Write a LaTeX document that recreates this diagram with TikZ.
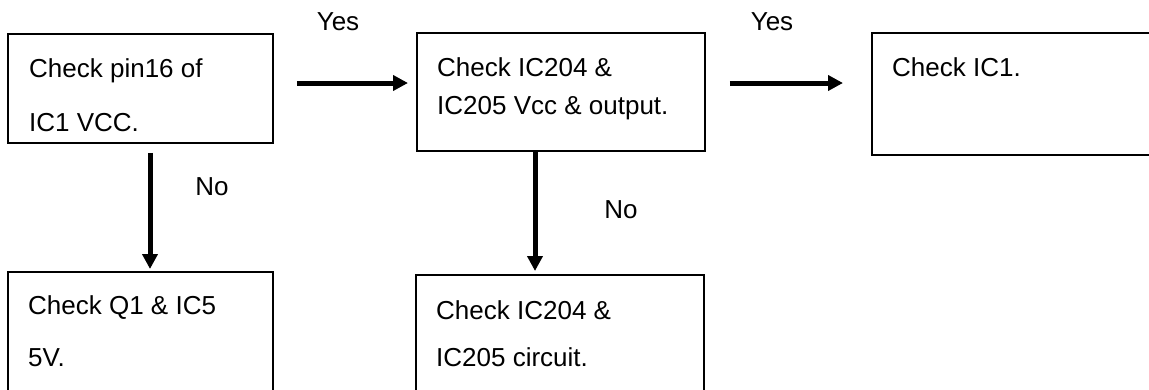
\documentclass[tikz,border=0pt]{standalone}
\usepackage{fontspec}
\setmainfont{Liberation Sans}
\usetikzlibrary{arrows.meta}
\begin{document}
\begin{tikzpicture}[x=1pt,y=-1pt,
  box/.style={draw, line width=1.8pt, anchor=north west, inner sep=0pt},
  txt/.style={anchor=base west, inner sep=0pt, font=\fontsize{26}{30}\selectfont},
  lbl/.style={inner sep=0pt, font=\fontsize{26}{30}\selectfont},
  arr/.style={line width=5pt, -{Triangle[length=15pt,width=15pt]}}]
\useasboundingbox (0,0) rectangle (1149,389);
\clip (0,0) rectangle (1149,389);
% boxes
\node[box, minimum width=265pt, minimum height=109pt] (b1) at (7,33) {};
\node[box, minimum width=288pt, minimum height=118pt] (b2) at (416,32) {};
\node[box, minimum width=300pt, minimum height=122pt] (b3) at (871,32) {};
\node[box, minimum width=265pt, minimum height=140pt] (b4) at (7,271) {};
\node[box, minimum width=288pt, minimum height=140pt] (b5) at (415,274) {};
% texts
\node[txt] (t1a) at (29,77) {Check pin16 of};
\node[txt] (t1b) at (29,131) {IC1 VCC.};
\node[txt] (t2a) at (437,76) {Check IC204 \&};
\node[txt] (t2b) at (437,114) {IC205 Vcc \& output.};
\node[txt] (t3a) at (892,76) {Check IC1.};
\node[txt] (t4a) at (28,314) {Check Q1 \& IC5};
\node[txt] (t4b) at (28,366) {5V.};
\node[txt] (t5a) at (436,319) {Check IC204 \&};
\node[txt] (t5b) at (436,366) {IC205 circuit.};
% labels
\node[lbl] (y1) at (338,22) {Yes};
\node[lbl] (y2) at (772,22) {Yes};
\node[lbl] (n1) at (212,187) {No};
\node[lbl] (n2) at (621,210) {No};
% arrows
\coordinate (h) at (0,83);
\draw[arr, shorten <=23pt, shorten >=8pt] (b1.east |- h) -- (b2.west |- h);
\draw[arr, shorten <=24pt, shorten >=28pt] (b2.east |- h) -- (b3.west |- h);
\coordinate (v1) at (150,0);
\coordinate (v2) at (535,0);
\draw[arr, shorten <=9pt, shorten >=2pt] (b1.south -| v1) -- (b4.north -| v1);
\draw[arr, shorten >=3pt] (b2.south -| v2) -- (b5.north -| v2);
\end{tikzpicture}
\end{document}
